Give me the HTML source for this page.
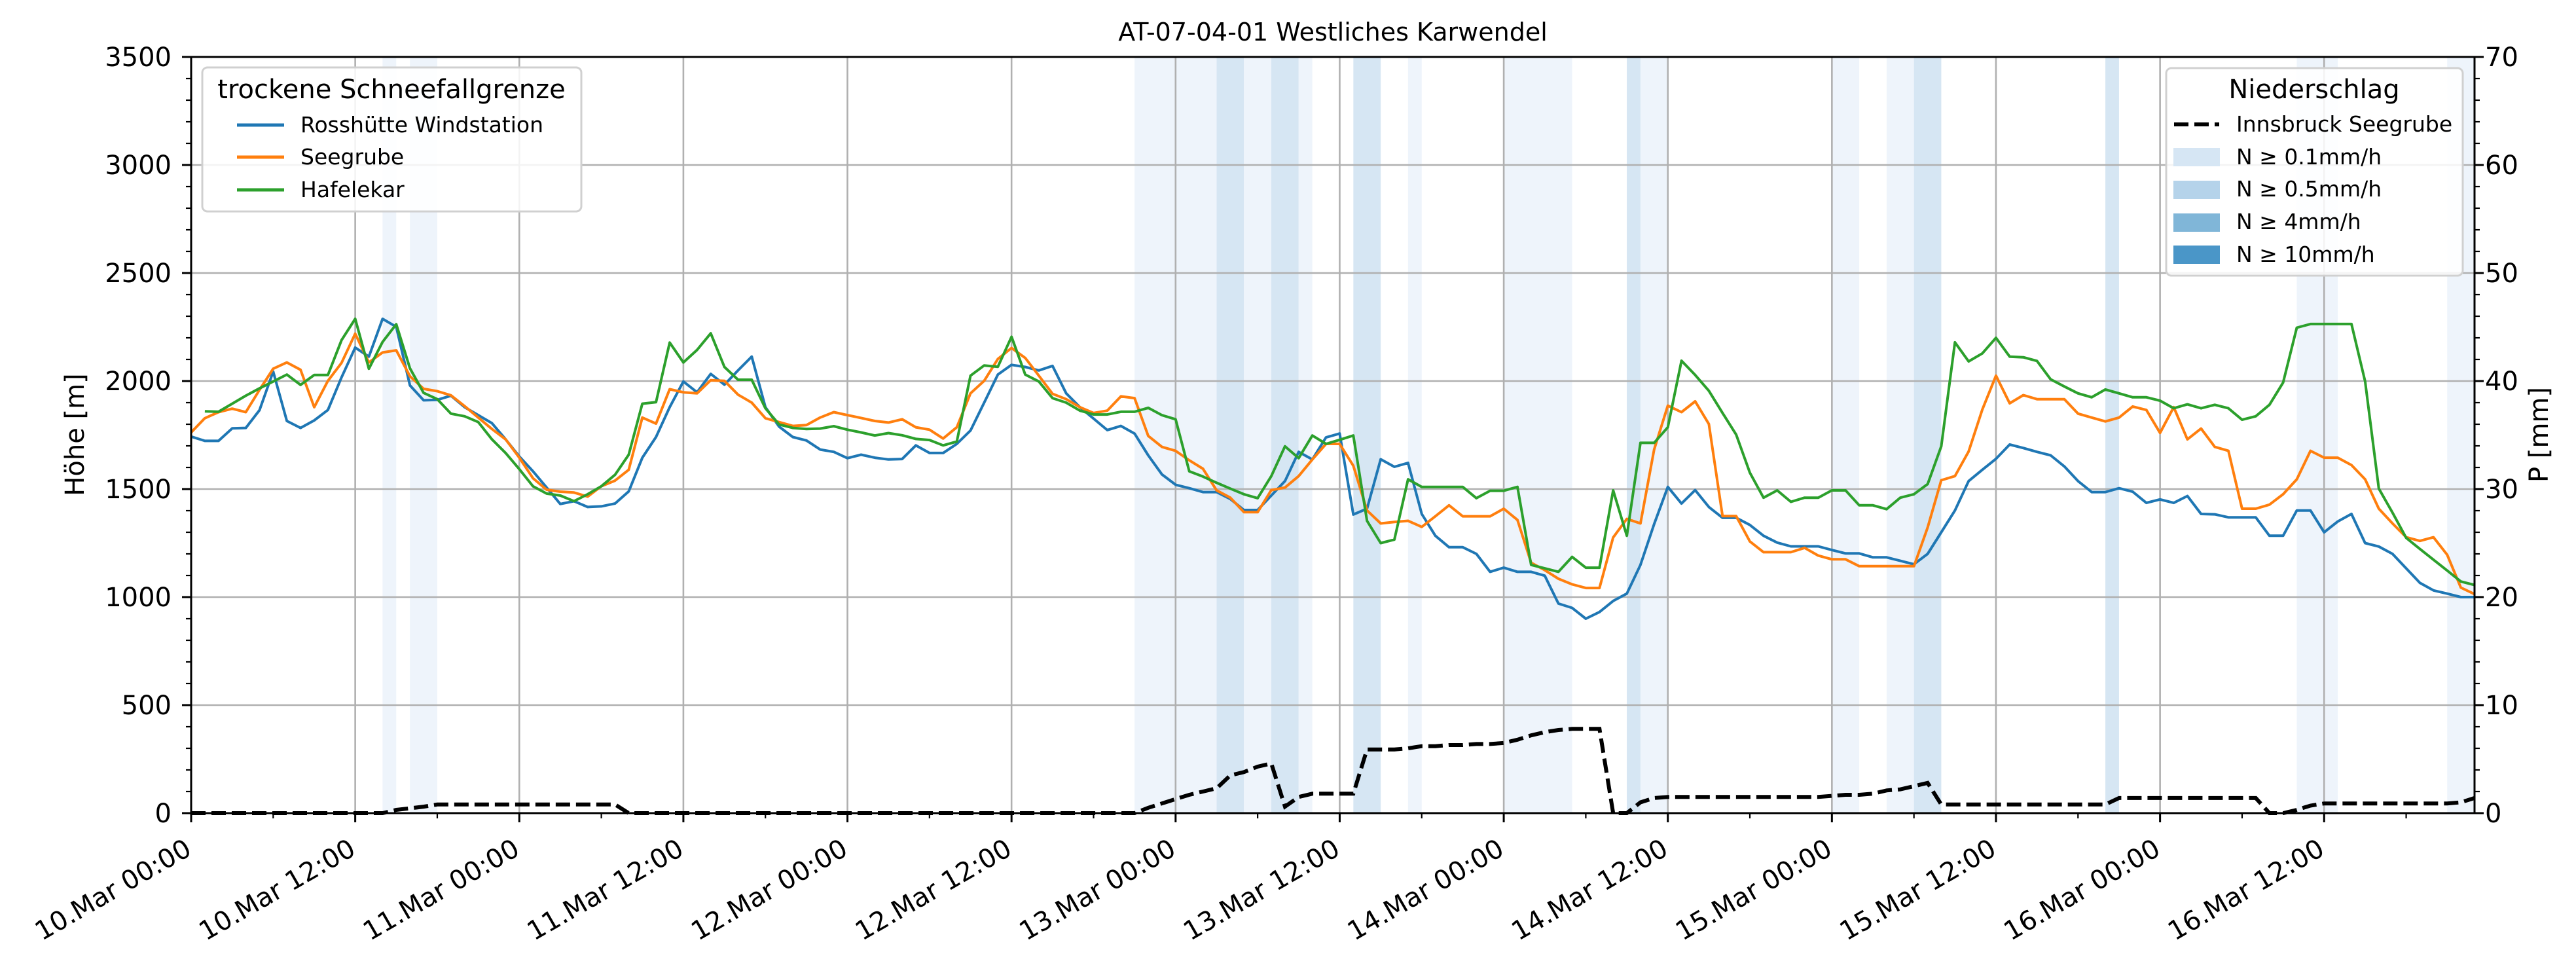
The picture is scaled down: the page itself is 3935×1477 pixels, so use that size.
<!DOCTYPE html>
<html><head><meta charset="utf-8"><style>
html,body{margin:0;padding:0;background:#fff;}
svg{display:block;font-family:"DejaVu Sans","Liberation Sans",sans-serif;}
</style></head><body>
<svg id="chart" width="3935" height="1477" viewBox="0 0 3935 1477" xmlns="http://www.w3.org/2000/svg">
<rect x="0" y="0" width="3935" height="1477" fill="#fff"/>
<g id="bands"></g>
<g id="grid"></g>
<g id="series"></g>
<g id="axes"></g>
<text x="2036" y="62" font-size="38" text-anchor="middle">AT-07-04-01 Westliches Karwendel</text>
<text transform="translate(128,664) rotate(-90)" font-size="40" text-anchor="middle">Höhe [m]</text>
<text transform="translate(3892,664) rotate(-90)" font-size="40" text-anchor="middle">P [mm]</text>

<g>
<rect x="309" y="103" width="579" height="220" rx="8" fill="#fff" fill-opacity="0.85" stroke="#d0d0d0" stroke-width="3"/>
<text x="598" y="150" font-size="40" text-anchor="middle">trockene Schneefallgrenze</text>
<g><line x1="362" y1="191" x2="434" y2="191" stroke="#1f77b4" stroke-width="5"/><text x="459" y="202" font-size="33">Rosshütte Windstation</text></g>
<g><line x1="362" y1="240" x2="434" y2="240" stroke="#ff7f0e" stroke-width="5"/><text x="459" y="251" font-size="33">Seegrube</text></g>
<g><line x1="362" y1="290" x2="434" y2="290" stroke="#2ca02c" stroke-width="5"/><text x="459" y="301" font-size="33">Hafelekar</text></g>
</g>

<g>
<rect x="3309" y="104" width="453" height="317" rx="8" fill="#fff" fill-opacity="0.85" stroke="#d0d0d0" stroke-width="3"/>
<text x="3535" y="150" font-size="40" text-anchor="middle">Niederschlag</text>
<g><line x1="3321" y1="190" x2="3390" y2="190" stroke="#000" stroke-width="6" stroke-dasharray="22 9"/><text x="3416" y="201" font-size="33">Innsbruck Seegrube</text></g>
<g><rect x="3320" y="226" width="71" height="28" fill="#d6e6f4"/><text x="3416" y="251" font-size="33">N ≥ 0.1mm/h</text></g>
<g><rect x="3320" y="276" width="71" height="28" fill="#b5d3ea"/><text x="3416" y="300" font-size="33">N ≥ 0.5mm/h</text></g>
<g><rect x="3320" y="326" width="71" height="28" fill="#80b6d8"/><text x="3416" y="350" font-size="33">N ≥ 4mm/h</text></g>
<g><rect x="3320" y="375" width="71" height="28" fill="#4a96c8"/><text x="3416" y="400" font-size="33">N ≥ 10mm/h</text></g>
</g>
</svg>
<script>
const rossHuette = [1743,1723,1723,1781,1783,1865,2044,1815,1783,1818,1866,2017,2155,2113,2288,2251,1980,1911,1913,1932,1879,1842,1805,1730,1651,1582,1507,1431,1444,1417,1420,1433,1489,1645,
1741,1879,1998,1948,2033,1983,2049,2113,1879,1789,1741,1725,1683,1672,1643,1659,1645,1637,1639,1702,1667,1667,1709,1771,1900,2030,2075,2065,2049,2070,1943,1879,1826,1773,
1792,1757,1656,1568,1520,1504,1486,1486,1454,1403,1403,1470,1537,1672,1637,1739,1757,1382,1409,1638,1603,1621,1385,1284,1231,1231,1200,1117,1136,1117,1117,1099,970,
950,900,931,982,1016,1149,1338,1510,1433,1495,1417,1367,1367,1334,1284,1252,1235,1235,1235,1218,1202,1202,1184,1184,1168,1152,1200,1300,1401,1537,1589,1640,1706,1690,
1672,1656,1605,1537,1486,1486,1504,1488,1436,1452,1436,1468,1385,1383,1369,1369,1369,1284,1284,1401,1401,1300,1350,1385,1250,1234,1200,1133,1066,1031,1016,1000,1000];
const seegrube = [1762,1828,1856,1872,1856,1959,2057,2086,2052,1879,2001,2084,2219,2086,2132,2142,2022,1964,1953,1934,1884,1831,1778,1730,1645,1550,1497,1488,1484,1465,1513,1539,1589,1831,
1803,1962,1948,1943,2004,2001,1937,1900,1828,1810,1792,1796,1831,1856,1842,1829,1815,1808,1823,1786,1775,1734,1786,1943,2001,2102,2153,2107,2025,1941,1916,1879,1852,1863,
1929,1921,1746,1695,1677,1633,1594,1494,1460,1393,1393,1495,1507,1560,1637,1709,1709,1608,1401,1341,1348,1353,1325,1374,1425,1374,1374,1374,1409,1357,1159,1125,1085,
1059,1042,1042,1276,1362,1341,1683,1886,1856,1906,1801,1375,1375,1258,1208,1208,1208,1228,1192,1175,1175,1143,1143,1143,1143,1143,1322,1541,1560,1674,1868,2025,1897,1935,
1916,1916,1916,1849,1831,1813,1831,1882,1866,1760,1879,1730,1780,1695,1677,1409,1409,1428,1476,1545,1677,1645,1645,1611,1545,1409,1341,1277,1260,1277,1196,1044,1014];
const hafelekar = [null,1860,1858,1895,1932,1966,1998,2030,1982,2028,2028,2189,2288,2057,2181,2263,2059,1945,1916,1849,1837,1810,1730,1667,1592,1513,1479,1470,1444,1476,1513,1566,1659,1895,
1902,2178,2086,2144,2221,2065,2006,2006,1874,1799,1783,1778,1780,1791,1775,1762,1748,1759,1749,1732,1727,1702,1720,2025,2072,2066,2205,2030,1998,1921,1900,1863,1845,1845,
1858,1858,1876,1842,1823,1582,1558,1529,1502,1476,1458,1560,1698,1643,1748,1709,1728,1748,1353,1250,1266,1545,1510,1510,1510,1510,1458,1492,1492,1510,1149,1133,1117,
1186,1136,1136,1494,1284,1714,1714,1786,2094,2028,1955,1852,1752,1576,1460,1494,1441,1460,1460,1494,1494,1425,1425,1407,1460,1476,1523,1698,2179,2091,2128,2200,2113,2110,
2093,2008,1975,1943,1925,1961,1943,1925,1925,1909,1874,1892,1874,1890,1874,1821,1837,1890,1993,2247,2264,2264,2264,2264,1998,1502,1391,1274,1223,1173,1123,1072,1056];
const precipSeegrube = [0,0,0,0,0,0,0,0,0,0,0,0,0,0,0,
0.3,0.45,0.6,0.8,
0.8,0.8,0.8,0.8,0.8,0.8,0.8,0.8,0.8,0.8,0.8,0.8,0.8,
0,0,0,0,0,0,0,0,0,0,0,0,0,0,0,0,0,0,0,0,0,0,0,0,0,0,0,0,0,0,0,0,0,0,0,0,0,0,
0.5,0.9,1.3,1.7,2.0,2.3,3.5,3.8,4.3,4.6,0.6,1.5,1.8,1.8,1.8,1.8,5.9,5.9,5.9,6.0,6.2,6.2,6.3,6.3,6.4,6.4,6.5,6.8,7.2,7.5,7.7,7.8,7.8,7.8,0,0,1.0,1.4,
1.5,1.5,1.5,1.5,1.5,1.5,1.5,1.5,1.5,1.5,1.5,1.5,
1.6,1.7,1.7,1.8,2.1,2.2,2.5,2.8,
0.8,
0.8,0.8,0.8,0.8,0.8,0.8,0.8,0.8,0.8,0.8,0.8,0.8,
1.4,1.4,1.4,1.4,1.4,1.4,1.4,1.4,1.4,1.4,1.4,
0,0,0.3,0.7,
0.9,0.9,0.9,0.9,0.9,0.9,0.9,0.9,0.9,
0.9,1.0,1.4];
const bandStart = [14,16,69,75,77,79,81,85,89,96,105,106,120,124,126,140,154,165];
const bandEnd   = [15,18,75,77,79,81,82,87,90,101,106,108,122,126,128,141,157,167];
const bandLevel = [1,1,1,2,1,2,1,2,1,1,2,1,1,1,2,2,1,1];
const xTickLabels = ["10.Mar 00:00","10.Mar 12:00","11.Mar 00:00","11.Mar 12:00","12.Mar 00:00","12.Mar 12:00","13.Mar 00:00","13.Mar 12:00","14.Mar 00:00","14.Mar 12:00","15.Mar 00:00","15.Mar 12:00","16.Mar 00:00","16.Mar 12:00"];
const yTicks = [0,500,1000,1500,2000,2500,3000,3500];
const y2Ticks = [0,10,20,30,40,50,60,70];

const NS = "http://www.w3.org/2000/svg";
const L = 292, R = 3780, T = 87, B = 1242;
const NH = 167;
const xS = h => L + h * (R - L) / NH;
const yS = v => B - v * (B - T) / 3500;
const y2S = p => B - p * (B - T) / 70;
function mk(tag, attrs, parent) {
  const e = document.createElementNS(NS, tag);
  for (const k in attrs) e.setAttribute(k, attrs[k]);
  parent.appendChild(e);
  return e;
}
const gB = document.getElementById('bands'), gG = document.getElementById('grid'),
      gS = document.getElementById('series'), gA = document.getElementById('axes');
const bandColors = {1: "#eef4fb", 2: "#d6e6f3"};
bandStart.forEach((s, i) => {
  const r = mk('rect', {x: xS(s), y: T, width: xS(bandEnd[i]) - xS(s), height: B - T, fill: bandColors[bandLevel[i]]}, gB);
  
  
});
xTickLabels.forEach((lab, i) => {
  const x = xS(i * 12);
  const g = mk('line', {x1: x, y1: T, x2: x, y2: B, stroke: "#b0b0b0", "stroke-width": 2.6}, gG);
  
  
});
yTicks.forEach(v => {
  const g = mk('line', {x1: L, y1: yS(v), x2: R, y2: yS(v), stroke: "#b0b0b0", "stroke-width": 2.6}, gG);
  
  
});
function linePath(arr, sy) {
  let d = "", pen = false;
  arr.forEach((v, i) => {
    if (v === null || v === undefined) { pen = false; return; }
    d += (pen ? "L" : "M") + xS(i).toFixed(1) + "," + sy(v).toFixed(1);
    pen = true;
  });
  return d;
}
const p1 = mk('path', {d: linePath(precipSeegrube, y2S), fill: "none", stroke: "#000", "stroke-width": 6, "stroke-dasharray": "22 9"}, gS);


const sr = mk('path', {d: linePath(rossHuette, yS), fill: "none", stroke: "#1f77b4", "stroke-width": 4, "stroke-linejoin": "round"}, gS);


const so = mk('path', {d: linePath(seegrube, yS), fill: "none", stroke: "#ff7f0e", "stroke-width": 4, "stroke-linejoin": "round"}, gS);


const sg = mk('path', {d: linePath(hafelekar, yS), fill: "none", stroke: "#2ca02c", "stroke-width": 4, "stroke-linejoin": "round"}, gS);



// spines
const fr = mk('rect', {x: L, y: T, width: R - L, height: B - T, fill: "none", stroke: "#000", "stroke-width": 3}, gA);


// left ticks
for (let v = 0; v <= 3500; v += 100) {
  const major = v % 500 === 0;
  mk('line', {x1: L - (major ? 14 : 8), y1: yS(v), x2: L, y2: yS(v), stroke: "#000", "stroke-width": major ? 3 : 2.2}, gA);
}
yTicks.forEach(v => {
  const t = mk('text', {x: 262, y: yS(v) + 14, "font-size": 40, "text-anchor": "end"}, gA);
  t.textContent = v;
  
  
});
for (let p = 0; p <= 70; p += 2) {
  const major = p % 10 === 0;
  mk('line', {x1: R, y1: y2S(p), x2: R + (major ? 14 : 8), y2: y2S(p), stroke: "#000", "stroke-width": major ? 3 : 2.2}, gA);
}
y2Ticks.forEach(p => {
  const t = mk('text', {x: 3796, y: y2S(p) + 14, "font-size": 40, "text-anchor": "start"}, gA);
  t.textContent = p;
  
  
});
for (let h = 0; h <= NH; h += 6) {
  const major = h % 12 === 0;
  mk('line', {x1: xS(h), y1: B, x2: xS(h), y2: B + (major ? 14 : 8), stroke: "#000", "stroke-width": major ? 3 : 2.2}, gA);
}
xTickLabels.forEach((lab, i) => {
  const x = xS(i * 12) + 3, y = 1304;
  const t = mk('text', {x: x, y: y, "font-size": 40, "text-anchor": "end", transform: `rotate(-30 ${x} ${y})`}, gA);
  t.textContent = lab;
  
  
});
</script>
</body></html>
